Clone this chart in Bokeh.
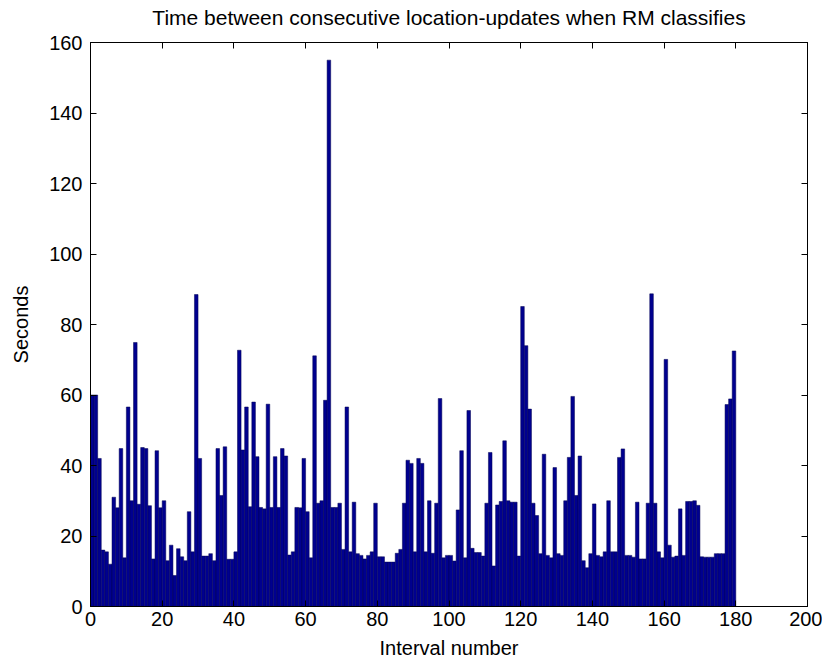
import numpy as np
from bokeh.plotting import figure
from bokeh.models import LinearAxis, Range1d, FixedTicker
from bokeh.embed import file_html
from bokeh.resources import INLINE

# Seconds between consecutive location updates, one value per interval (180 intervals)
seconds = [
    60, 60, 42, 16, 15.5, 12, 31, 28, 44.8, 13.8,
    56.6, 30, 74.9, 29, 45.1, 44.8, 28.6, 13.5, 44.2, 28,
    30, 13, 17.4, 8.8, 16.4, 14.1, 13, 26.9, 15.5, 88.5,
    42, 14.3, 14.3, 15, 13, 44.8, 31.5, 45.3, 13.4, 13.4,
    15.5, 72.7, 44.4, 56.6, 28.3, 58, 42.5, 28.1, 27.7, 57.4,
    28.1, 42.5, 28.1, 44.8, 42.7, 14.6, 15.5, 28.1, 28, 42,
    26.9, 13.8, 71.1, 29.3, 30, 58.5, 155, 28.1, 28.1, 29.3,
    16.2, 56.6, 15.5, 29.6, 15, 14.5, 13.5, 14.5, 15.5, 29.3,
    14.1, 14.1, 12.6, 12.6, 12.6, 15.1, 16.2, 29.3, 41.5, 40.6,
    15.5, 42, 40.6, 15.5, 30, 15.1, 29.3, 59, 13.8, 14.5,
    14.5, 12.9, 27.4, 44.2, 13.8, 55.6, 16.5, 15.3, 15.3, 14.3,
    29.3, 43.7, 11.5, 28.8, 29.8, 47, 30, 29.6, 29.6, 14.3,
    85.1, 74, 56, 29.3, 25.8, 15, 43.2, 14.5, 13.8, 39.4,
    15, 14.5, 30, 42.3, 59.6, 31.5, 42.7, 13, 11, 15,
    29.1, 14.5, 14.1, 15.5, 30, 15.5, 15.5, 42.3, 44.7, 14.5,
    14.5, 14, 29.6, 13.5, 13.5, 29.3, 88.7, 29.3, 15.5, 13.8,
    70.1, 17.4, 14, 14.3, 27.7, 14.5, 29.8, 29.8, 30, 28.7,
    14.1, 14, 14, 14, 15, 15, 15, 57.3, 58.9, 72.5,
]
x_ticks = [0, 20, 40, 60, 80, 100, 120, 140, 160, 180, 200]
y_ticks = [0, 20, 40, 60, 80, 100, 120, 140, 160]
title_text = "Time between consecutive location-updates when RM classifies"

interval = np.arange(len(seconds)) + 0.5

FONT = "Liberation Sans"

p = figure(
    width=822, height=661,
    x_range=Range1d(0, 200), y_range=Range1d(0, 160),
    output_backend="svg", toolbar_location=None,
    min_border_left=90, min_border_right=15, min_border_top=42, min_border_bottom=55,
)

p.vbar(x=interval, top=seconds, width=1.0, bottom=0,
       fill_color="#00008F", line_color="#000050", line_width=0.5)

p.grid.visible = False
p.outline_line_color = "black"
p.outline_line_width = 1
p.background_fill_color = "white"
p.border_fill_color = "white"

for ax, ticks in ((p.xaxis[0], x_ticks), (p.yaxis[0], y_ticks)):
    ax.ticker = FixedTicker(ticks=ticks)
    ax.major_tick_in = 6
    ax.major_tick_out = 0
    ax.minor_tick_in = 0
    ax.minor_tick_out = 0
    ax.axis_line_color = "black"
    ax.major_tick_line_color = "black"
    ax.major_label_text_font = FONT
    ax.major_label_text_font_size = "20px"
    ax.major_label_text_color = "black"
    ax.axis_label_text_font = FONT
    ax.axis_label_text_font_size = "20px"
    ax.axis_label_text_font_style = "normal"
    ax.axis_label_text_color = "black"

p.xaxis.axis_label = "Interval number"
p.yaxis.axis_label = "Seconds"
p.xaxis.major_label_standoff = 5
p.yaxis.major_label_standoff = 8
p.xaxis.axis_label_standoff = 8
p.yaxis.axis_label_standoff = 14

# top axis: inward ticks only, and it carries the chart title as its label
top_ax = LinearAxis(ticker=FixedTicker(ticks=x_ticks), major_tick_in=6, major_tick_out=0,
                    minor_tick_in=0, minor_tick_out=0, major_label_text_font_size="1px",
                    major_label_text_color=None, major_label_standoff=0,
                    axis_line_color="black",
                    axis_label=title_text, axis_label_standoff=14,
                    axis_label_text_font=FONT, axis_label_text_font_size="21px",
                    axis_label_text_font_style="normal", axis_label_text_color="black")
right_ax = LinearAxis(ticker=FixedTicker(ticks=y_ticks), major_tick_in=6, major_tick_out=0,
                      minor_tick_in=0, minor_tick_out=0, major_label_text_font_size="1px",
                      major_label_text_color=None, major_label_standoff=0,
                      axis_line_color="black")
p.add_layout(top_ax, "above")
p.add_layout(right_ax, "right")

open("out.html", "w").write(file_html(p, INLINE))
